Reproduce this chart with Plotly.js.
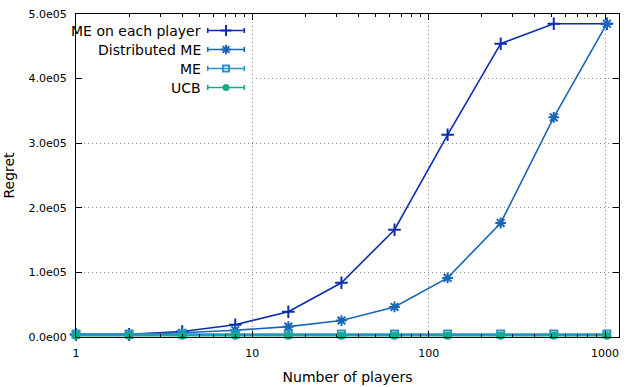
<!DOCTYPE html>
<html>
<head>
<meta charset="utf-8">
<script src="https://cdn.plot.ly/plotly-3.0.1.min.js"></script>
<style>html,body{margin:0;padding:0;background:#fff;}#chart{width:640px;height:387px;}</style>
</head>
<body>
<div id="chart"></div>
<script>
// ---- data ----
const players = [1, 2, 4, 8, 16, 32, 64, 128, 256, 512, 1024];
const meEachPlayer = [4000, 4000, 8500, 19000, 39000, 84000, 166000, 313000, 454000, 485000, 485000];
const distributedME = [4000, 4000, 6500, 10500, 16000, 25500, 46500, 91500, 176500, 340000, 485000];
const meOnly = [4500, 4500, 4500, 4500, 4500, 4500, 4500, 4500, 4500, 4500, 4500];
const ucb = [2000, 2000, 2000, 2000, 2000, 2000, 2000, 2000, 2000, 2000, 2000];
const seriesNames = ['ME on each player', 'Distributed ME', 'ME', 'UCB'];
const seriesColors = ['#0b2db0', '#1766b8', '#2a93c4', '#12ad8a'];
const seriesSymbols = ['cross-thin-open', 'asterisk-open', 'square-open', 'circle'];
const yTickVals = [0, 100000, 200000, 300000, 400000, 500000];
const yTickText = ['0.0e00', '1.0e05', '2.0e05', '3.0e05', '4.0e05', '5.0e05'];
const xTickVals = [1, 10, 100, 1000];
const xTickText = ['1', '10', '100', '1000'];
const xMinor = [2,3,4,5,6,7,8,9,20,30,40,50,60,70,80,90,200,300,400,500,600,700,800,900];

const seriesData = [meEachPlayer, distributedME, meOnly, ucb];
const markerSizes = [9, 9, 7, 8];

const traces = seriesData.map((ys, i) => ({
  x: players, y: ys, type: 'scatter', mode: 'lines+markers', name: seriesNames[i],
  line: {color: seriesColors[i], width: 1.6},
  marker: {symbol: seriesSymbols[i], size: markerSizes[i], color: seriesColors[i],
           line: {color: seriesColors[i], width: i === 3 ? 0 : 2}},
  showlegend: false, cliponaxis: false
}));

// custom gnuplot-style legend (overlay axes in pixel-like units)
const legendRows = [30.5, 49.5, 68.5, 87.5];
const legendMarkX = 226;
seriesNames.forEach((n, i) => {
  traces.push({
    x: [legendMarkX], y: [legendRows[i]], xaxis: 'x2', yaxis: 'y2', type: 'scatter', mode: 'markers',
    marker: {symbol: seriesSymbols[i], size: markerSizes[i] - 1, color: seriesColors[i],
             line: {color: seriesColors[i], width: i === 3 ? 0 : 2}},
    error_x: {type: 'constant', value: 18.3, color: seriesColors[i], thickness: 1.6, width: 2.5},
    showlegend: false, hoverinfo: 'skip'
  });
});

const annotations = seriesNames.map((n, i) => ({
  x: 203, y: legendRows[i], xref: 'x2', yref: 'y2', text: n, showarrow: false,
  xanchor: 'right', yanchor: 'middle', font: {family: 'DejaVu Sans', size: 14, color: '#000'}
}));

const layout = {
  width: 640, height: 387,
  margin: {l: 76, r: 21, t: 14, b: 50},
  paper_bgcolor: '#fff', plot_bgcolor: '#fff',
  font: {family: 'DejaVu Sans', size: 11, color: '#000'},
  showlegend: false,
  xaxis: {
    type: 'log', range: [0, Math.log10(1200)],
    tickmode: 'array', tickvals: xTickVals, ticktext: xTickText,
    ticks: 'inside', ticklen: 6, tickcolor: '#000',
    showline: true, linecolor: '#000', linewidth: 1, mirror: 'ticks',
    showgrid: true, gridcolor: '#8a8a8a', griddash: '1px,3px', gridwidth: 1,
    zeroline: false, tickfont: {size: 11},
    ticklabelstandoff: 6,
    minor: {tickmode: 'array', tickvals: xMinor, ticks: 'inside', ticklen: 3, tickcolor: '#000', showgrid: false},
    title: {text: 'Number of players', font: {size: 14}, standoff: 12}
  },
  yaxis: {
    range: [0, 500000],
    tickmode: 'array', tickvals: yTickVals, ticktext: yTickText,
    ticks: 'inside', ticklen: 6, tickcolor: '#000',
    showline: true, linecolor: '#000', linewidth: 1, mirror: 'ticks',
    showgrid: true, gridcolor: '#8a8a8a', griddash: '1px,3px', gridwidth: 1,
    zeroline: false, tickfont: {size: 11},
    ticklabelstandoff: 6,
    title: {text: 'Regret', font: {size: 14}, standoff: 10}
  },
  xaxis2: {overlaying: 'x', range: [76, 619], visible: false, fixedrange: true},
  yaxis2: {overlaying: 'y', range: [337, 14], visible: false, fixedrange: true},
  shapes: [{
    type: 'rect', xref: 'x', yref: 'y', x0: 1.01, x1: 9.7, y0: 372000, y1: 496000,
    fillcolor: '#fff', line: {width: 0}, layer: 'between'
  }],
  annotations: annotations
};

Plotly.newPlot('chart', traces, layout, {staticPlot: true, displayModeBar: false});
</script>
</body>
</html>
